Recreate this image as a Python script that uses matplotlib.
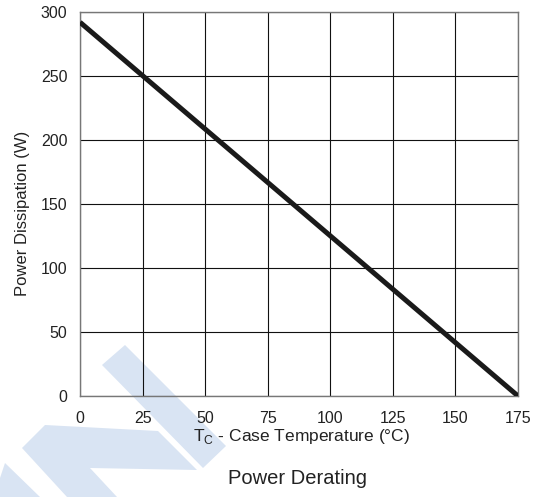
import matplotlib
matplotlib.use("Agg")
import matplotlib.pyplot as plt
from matplotlib.patches import Polygon

# ── Data ─────────────────────────────────────────────
temp_c = [0, 175]
power_w = [292, 0]
x_ticks = [0, 25, 50, 75, 100, 125, 150, 175]
y_ticks = [0, 50, 100, 150, 200, 250, 300]

# watermark shapes in pixel coords (x, y from top)
wm_a = [(102, 365), (125, 345), (226, 446), (203, 468)]
wm_b = [(22, 448), (45, 425), (158, 431), (197, 470), (90, 468), (117, 497), (67, 497)]
wm_c = [(0, 478), (5, 463), (40, 497), (0, 497)]

plt.rcParams['font.family'] = ['Liberation Sans', 'DejaVu Sans']

W, H = 544, 497
fig = plt.figure(figsize=(W / 100, H / 100), dpi=100)
ax = fig.add_axes([80 / W, 1 - 396 / H, (518 - 80) / W, (396 - 12) / H])
ax.patch.set_alpha(0)

for poly in (wm_a, wm_b, wm_c):
    pts = [(x / W, 1 - y / H) for x, y in poly]
    fig.patches.append(Polygon(pts, closed=True, transform=fig.transFigure,
                               facecolor='#d9e4f3', edgecolor='none', zorder=-5))

ax.plot(temp_c, power_w, color='#1a1a1a', lw=3.6, solid_capstyle='butt', zorder=3)

ax.set_xlim(0, 175)
ax.set_ylim(0, 300)
ax.set_xticks(x_ticks)
ax.set_yticks(y_ticks)
ax.grid(True, color='#111111', lw=0.8)
ax.tick_params(length=0, labelsize=11.5, colors='#222222')
ax.tick_params(axis='x', pad=11)
ax.tick_params(axis='y', pad=9)
for s in ax.spines.values():
    s.set_color('#777777')
    s.set_linewidth(1.0)

fig.text(302 / W, 1 - 437 / H, r'T$_\mathregular{C}$ - Case Temperature (°C)',
         ha='center', va='center', fontsize=12.5, color='#222222')
fig.text(23 / W, 1 - 213 / H, 'Power Dissipation (W)', rotation=90,
         ha='center', va='center', fontsize=12, color='#222222')
fig.text(298 / W, 1 - 478 / H, 'Power Derating', ha='center', va='center',
         fontsize=14.5, color='#222222')

fig.savefig('out.png', dpi=100)
